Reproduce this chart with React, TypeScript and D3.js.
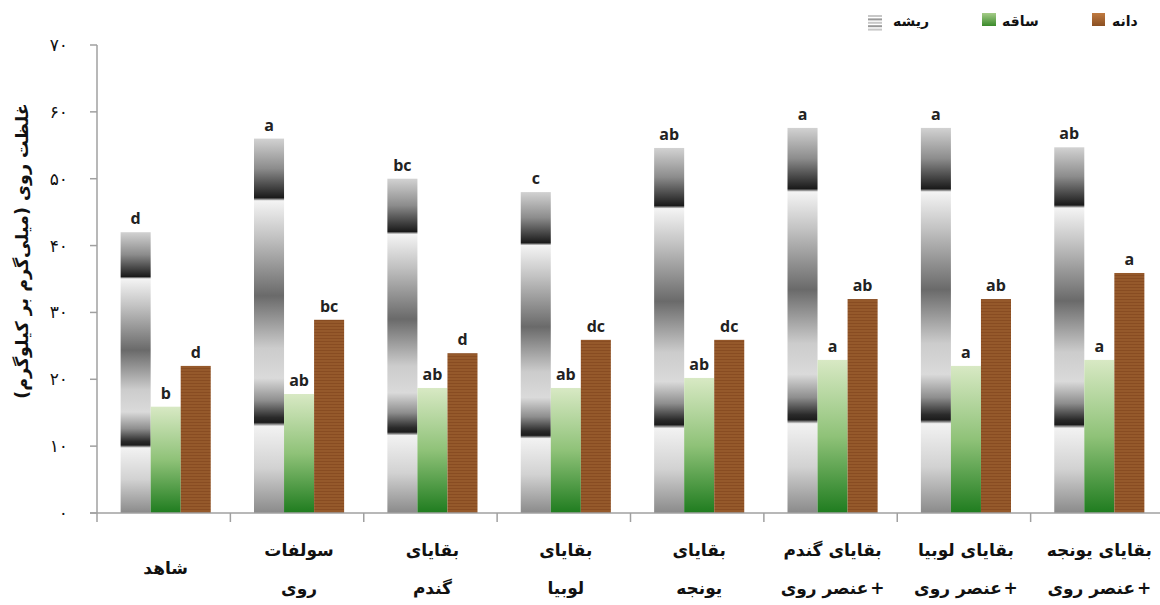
import { useLayoutEffect, useRef, useState } from 'react';
import * as d3 from 'd3';

// data
const categoryLines = [
  ['شاهد'],
  ['سولفات', 'روی'],
  ['بقایای', 'گندم'],
  ['بقایای', 'لوبیا'],
  ['بقایای', 'یونجه'],
  ['بقایای گندم', '+ عنصر روی'],
  ['بقایای لوبیا', '+ عنصر روی'],
  ['بقایای یونجه', '+ عنصر روی'],
];
const seriesNames = ['ریشه', 'ساقه', 'دانه'];
const rootValues = [42, 56, 50, 48, 54.6, 57.6, 57.6, 54.7];
const stemValues = [15.9, 17.8, 18.7, 18.7, 20.2, 22.9, 22, 22.9];
const grainValues = [22, 28.9, 23.9, 25.9, 25.9, 32, 32, 35.9];
const rootLetters = ['d', 'a', 'bc', 'c', 'ab', 'a', 'a', 'ab'];
const stemLetters = ['b', 'ab', 'ab', 'ab', 'ab', 'a', 'a', 'a'];
const grainLetters = ['d', 'bc', 'd', 'dc', 'dc', 'ab', 'ab', 'a'];
const yTicks = [0, 10, 20, 30, 40, 50, 60, 70];
const yTickLabels = ['۰', '۱۰', '۲۰', '۳۰', '۴۰', '۵۰', '۶۰', '۷۰'];
const yTitle = 'غلظت روی (میلی‌گرم بر کیلوگرم)';

const W = 1160;
const H = 605;
const left = 97;
const right = 1164;
const top = 45;
const bottom = 513;
const fa = "'DejaVu Sans', sans-serif";

// a label line; a leading "+" belongs at the right-hand (start) side in RTL
function LabelLine({ cx, y, text }: { cx: number; y: number; text: string }) {
  const ref = useRef<SVGTextElement>(null);
  const [w, setW] = useState(80);
  const plus = text.startsWith('+');
  const body = plus ? text.slice(1).trim() : text;
  useLayoutEffect(() => {
    if (plus && ref.current) setW(ref.current.getComputedTextLength());
  }, [plus, body]);
  const style = { fontFamily: fa, fontWeight: 'bold', fontSize: 17, fill: '#111' };
  if (!plus) {
    return <text x={cx} y={y} textAnchor="middle" style={style}>{body}</text>;
  }
  const plusW = 16;
  const start = cx - (w + plusW) / 2;
  return (
    <g>
      <text ref={ref} x={start} y={y} style={style}>{body}</text>
      <text x={start + w + plusW} y={y} textAnchor="end" style={style}>+</text>
    </g>
  );
}

export default function App() {
  const x = d3.scaleBand<number>()
    .domain(d3.range(categoryLines.length))
    .range([left, right]);
  const sub = d3.scaleBand<number>()
    .domain([0, 1, 2])
    .range([0, x.bandwidth()])
    .paddingOuter(0.72);
  const y = d3.scaleLinear().domain([0, 70]).range([bottom, top]);
  const bw = sub.bandwidth();
  const shift = 2;

  const series = [
    { values: rootValues, letters: rootLetters, fill: 'url(#chrome)' },
    { values: stemValues, letters: stemLetters, fill: 'url(#greenGrad)' },
    { values: grainValues, letters: grainLetters, fill: 'url(#brownPat)' },
  ];

  const chromeStops: [number, string][] = [
    [0, '#d2d2d2'], [0.08, '#8c8c8c'], [0.15, '#262626'], [0.158, '#1a1a1a'],
    [0.166, '#f4f4f4'], [0.26, '#c4c4c4'], [0.42, '#6a6a6a'], [0.56, '#cccccc'],
    [0.64, '#dadada'], [0.7, '#8e8e8e'], [0.745, '#2a2a2a'], [0.758, '#1c1c1c'],
    [0.768, '#f2f2f2'], [0.88, '#d2d2d2'], [1, '#8a8a8a'],
  ];

  return (
    <svg width={W} height={H} style={{ position: 'absolute', left: 0, top: 0, background: '#fff' }}>
      <defs>
        <linearGradient id="chrome" x1="0" y1="0" x2="0" y2="1">
          {chromeStops.map(([o, c], i) => <stop key={i} offset={o} stopColor={c} />)}
        </linearGradient>
        <linearGradient id="greenGrad" x1="0" y1="0" x2="0" y2="1">
          <stop offset="0" stopColor="#d8e9c4" />
          <stop offset="0.5" stopColor="#8fc278" />
          <stop offset="1" stopColor="#1f7c1f" />
        </linearGradient>
        <pattern id="brownPat" width="6" height="3" patternUnits="userSpaceOnUse">
          <rect width="6" height="3" fill="#95592b" />
          <rect y="2" width="6" height="1" fill="#884c22" />
        </pattern>
        <linearGradient id="legGreen" x1="0" y1="0" x2="0" y2="1">
          <stop offset="0" stopColor="#a5cc88" />
          <stop offset="1" stopColor="#3a8a2a" />
        </linearGradient>
        <linearGradient id="legBrown" x1="0" y1="0" x2="0" y2="1">
          <stop offset="0" stopColor="#c07a40" />
          <stop offset="1" stopColor="#8a4f22" />
        </linearGradient>
      </defs>

      {/* bars */}
      {series.map((s, si) => (
        <g key={si}>
          {s.values.map((v, i) => {
            const bx = (x(i) ?? 0) + (sub(si) ?? 0) + shift;
            return (
              <g key={i}>
                <rect x={bx} y={y(v)} width={bw} height={y(0) - y(v)} fill={s.fill} />
                <text x={bx + bw / 2} y={y(v) - 8} textAnchor="middle"
                  fontFamily="'Open Sans', sans-serif" fontWeight="bold" fontSize={16} fill="#222">
                  {s.letters[i]}
                </text>
              </g>
            );
          })}
        </g>
      ))}

      {/* y axis */}
      <line x1={left} x2={left} y1={top} y2={bottom} stroke="#a0a0a0" strokeWidth={1.5} />
      {yTicks.map((t, i) => (
        <g key={t}>
          <line x1={left - 7} x2={left} y1={y(t)} y2={y(t)} stroke="#a0a0a0" strokeWidth={1.5} />
          <text x={68} y={y(t)} dy="0.35em" textAnchor="end" fontFamily={fa} fontSize={17} fill="#111">
            {yTickLabels[i]}
          </text>
        </g>
      ))}

      {/* x axis */}
      <line x1={left - 7} x2={W} y1={bottom} y2={bottom} stroke="#a0a0a0" strokeWidth={1.5} />
      {d3.range(categoryLines.length + 1).map(i => {
        const tx = left + i * x.step();
        return <line key={i} x1={tx} x2={tx} y1={bottom} y2={bottom + 9} stroke="#a0a0a0" strokeWidth={1.5} />;
      })}
      {categoryLines.map((lines, i) => {
        const cx = (x(i) ?? 0) + x.bandwidth() / 2 + shift;
        const ys = lines.length === 1 ? [574] : [556, 594];
        return lines.map((ln, j) => <LabelLine key={`${i}-${j}`} cx={cx} y={ys[j]} text={ln} />);
      })}

      {/* y title */}
      <text transform={`translate(28,251) rotate(-90)`} textAnchor="middle" direction="rtl"
        fontFamily={fa} fontWeight="bold" fontSize={17.5} fill="#111">
        {yTitle}
      </text>

      {/* legend */}
      <g>
        {[0, 1, 2, 3, 4].map(k => (
          <rect key={k} x={868} y={15 + k * 3.4} width={14} height={2} fill={k % 2 ? '#999' : '#c8c8c8'} />
        ))}
        <text x={893} y={26} fontFamily={fa} fontWeight="bold" fontSize={14} fill="#111">{seriesNames[0]}</text>
        <rect x={982} y={13} width={14} height={13} fill="url(#legGreen)" />
        <text x={1002} y={26} fontFamily={fa} fontWeight="bold" fontSize={14} fill="#111">{seriesNames[1]}</text>
        <rect x={1092} y={13} width={13} height={13} fill="url(#legBrown)" />
        <text x={1112} y={26} fontFamily={fa} fontWeight="bold" fontSize={14} fill="#111">{seriesNames[2]}</text>
      </g>
    </svg>
  );
}
